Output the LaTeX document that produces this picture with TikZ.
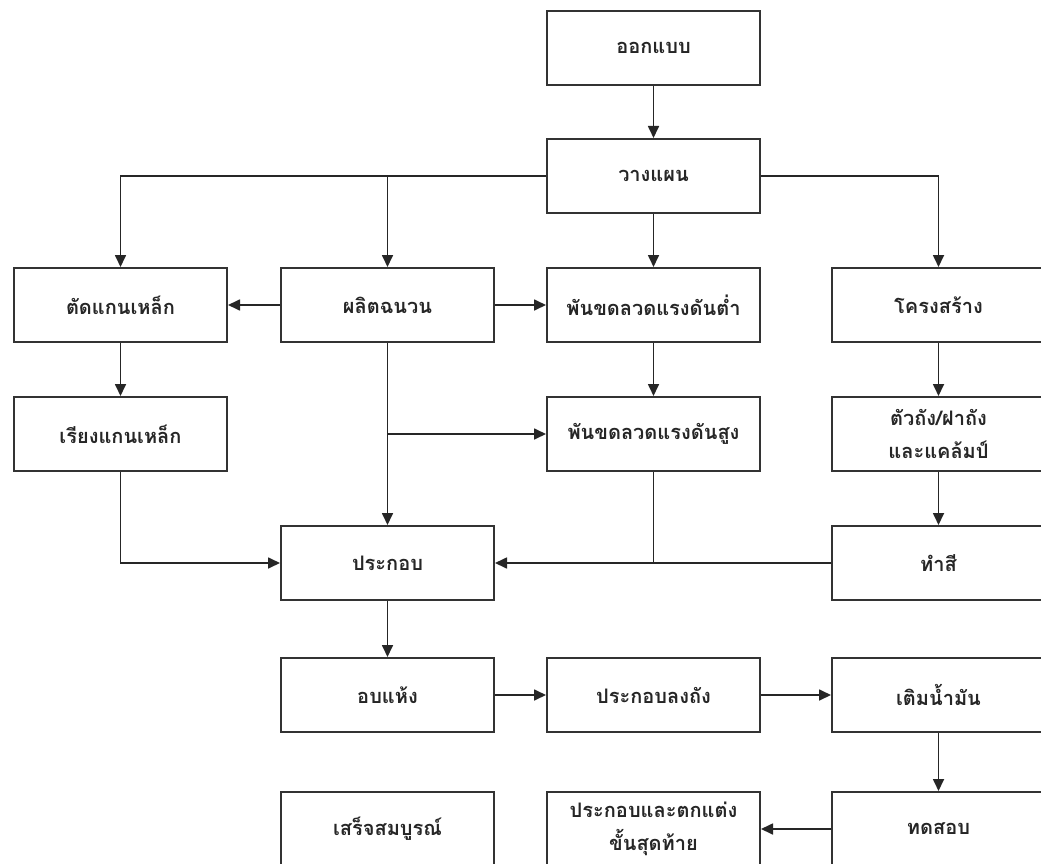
\documentclass[tikz,border=0pt]{standalone}
\usepackage{fontspec}
\newfontfamily\thaifont[Script=Thai]{Loma}
\usetikzlibrary{arrows.meta}
\begin{document}
\begin{tikzpicture}[x=1pt,y=-1pt,
  box/.style={draw=black!80, line width=2pt, minimum width=213pt, minimum height=74pt,
    inner sep=0pt, align=center, anchor=north west,
    font=\thaifont\bfseries\fontsize{20}{33}\selectfont, text=black!85},
  arr/.style={draw=black!85, line width=1.7pt, -{Triangle[length=12pt,width=11pt]}},
  ln/.style={draw=black!85, line width=1.7pt}]
\useasboundingbox (0,0) rectangle (1041,864);
\fill[white] (0,0) rectangle (1041,864);
\clip (0,0) rectangle (1041,864);
\node[box] (design) at (546,10) {ออกแบบ};
\node[box] (plan) at (546,138) {วางแผน};
\node[box] (cut) at (13,267) {ตัดแกนเหล็ก};
\node[box] (ins) at (280,267) {ผลิตฉนวน};
\node[box] (lv) at (546,267) {พันขดลวดแรงดันต่ำ};
\node[box] (str) at (831,267) {โครงสร้าง};
\node[box] (stack) at (13,396) {เรียงแกนเหล็ก};
\node[box] (hv) at (546,396) {พันขดลวดแรงดันสูง};
\node[box] (tank) at (831,396) {ตัวถัง/ฝาถัง\\และแคล้มป์};
\node[box] (asm) at (280,525) {ประกอบ};
\node[box] (paint) at (831,525) {ทำสี};
\node[box] (dry) at (280,657) {อบแห้ง};
\node[box] (intank) at (546,657) {ประกอบลงถัง};
\node[box] (oil) at (831,657) {เติมน้ำมัน};
\node[box] (done) at (280,791) {เสร็จสมบูรณ์};
\node[box] (final) at (546,791) {ประกอบและตกแต่ง\\ขั้นสุดท้าย};
\node[box] (test) at (831,791) {ทดสอบ};
\draw[arr] (design) -- (plan);
\draw[arr] (plan.west) -| (cut.north);
\draw[arr] (plan.west -| ins.north) -- (ins.north);
\draw[arr] (plan) -- (lv);
\draw[arr] (plan.east) -| (str.north);
\draw[arr] (ins) -- (cut);
\draw[arr] (ins) -- (lv);
\draw[arr] (cut) -- (stack);
\draw[arr] (lv) -- (hv);
\draw[arr] (str) -- (tank);
\draw[arr] (ins) -- (asm);
\draw[arr] (hv.west -| ins.south) -- (hv.west);
\draw[arr] (stack.south) |- (asm.west);
\draw[arr] (paint.west) -- (asm.east);
\draw[ln] (hv.south) -- (hv.south |- asm.east);
\draw[arr] (tank) -- (paint);
\draw[arr] (asm) -- (dry);
\draw[arr] (dry) -- (intank);
\draw[arr] (intank) -- (oil);
\draw[arr] (oil) -- (test);
\draw[arr] (test) -- (final);
\end{tikzpicture}
\end{document}
